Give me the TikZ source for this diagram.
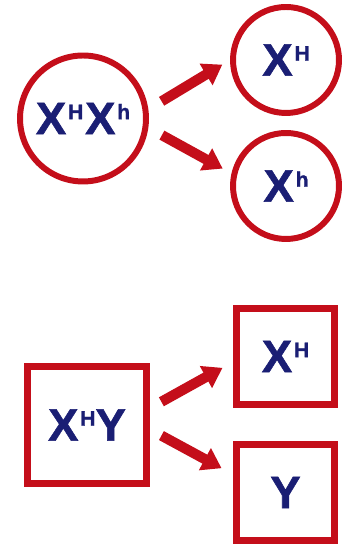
\documentclass[tikz,border=0pt]{standalone}
\usepackage{fontspec}
\setmainfont{Liberation Sans}[BoldFeatures={FakeBold=1.2}]
\usetikzlibrary{arrows.meta, shapes.geometric}
\definecolor{genered}{RGB}{196,14,26}
\definecolor{genenavy}{RGB}{26,30,116}
\newcommand{\allele}[1]{\kern1pt\raisebox{0.3cm}{\fontsize{12}{12}\selectfont #1}}

\begin{document}
\begin{tikzpicture}[x=0.02cm, y=0.02cm,
  every node/.style={font=\fontsize{26}{26}\selectfont\bfseries, text=genenavy, inner sep=0pt},
  cell/.style={draw=genered, circle, line width=3.4pt},
  sqcell/.style={draw=genered, rectangle, line width=4pt},
  split/.style={genered, line width=5.8pt, -{Triangle[length=0.38cm, width=0.48cm]}}]
  \useasboundingbox (0,0) rectangle (358,546);

  % female: two X chromosomes
  \node[cell, minimum size=2.52cm] (xx) at (83,427.5) {X\allele{H}\kern1pt X\allele{h}};
  \node[cell, minimum size=2.12cm] (xH) at (286,486) {X\allele{H}};
  \node[cell, minimum size=2.12cm] (xh) at (286,360) {X\allele{h}};

  \draw[split, shorten <=0.31cm, shorten >=0.18cm] (xx.8) -- (xH.180);
  \draw[split, shorten <=0.31cm, shorten >=0.2cm] (xx.-8) -- (xh.167);

  % male: X and Y
  \node[sqcell, minimum width=2.38cm, minimum height=2.34cm] (xy) at (87,121) {X\allele{H}Y};
  \node[sqcell, minimum width=1.96cm, minimum height=1.92cm] (yH) at (285.5,189.5) {X\allele{H}};
  \node[sqcell, minimum width=1.96cm, minimum height=1.92cm] (yY) at (285.5,53.5) {Y};

  \draw[split, shorten <=0.26cm, shorten >=0.24cm] (xy.15) -- (yH.186);
  \draw[split, shorten <=0.26cm, shorten >=0.26cm] (xy.-4) -- (yY.161);
\end{tikzpicture}
\end{document}
